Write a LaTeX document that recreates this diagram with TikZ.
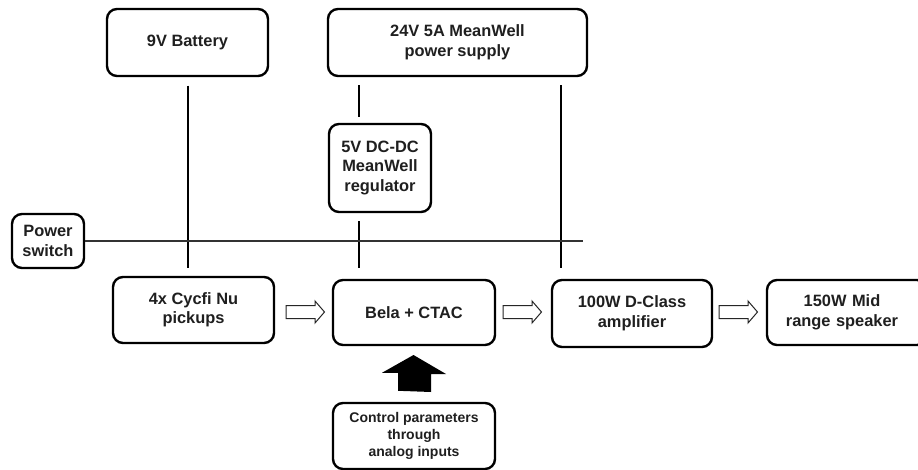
\documentclass[tikz,border=0pt]{standalone}
\usepackage{fontspec}
\setmainfont{Liberation Sans}
\begin{document}
\begin{tikzpicture}[x=1pt,y=-1pt,
  box/.style={draw=black, line width=2.4pt, rounded corners=10pt, align=center,
    inner sep=0pt, font=\fontsize{16.4}{19.5}\selectfont\bfseries, text=black!88},
  smallbox/.style={box, font=\fontsize{14}{17}\selectfont\bfseries},
  wire/.style={draw=black, line width=2pt},
  swline/.style={draw=black!80, line width=2pt},
  hollow/.style={draw=black!85, line width=1pt, fill=white},
  solidarrow/.style={fill=black, draw=none}]
\clip (0,0) rectangle (918,470);
\fill[white] (0,0) rectangle (918,470);

% boxes
\node[box, minimum width=161pt, minimum height=67pt] (bat) at (187.5,42.5) {9V Battery};
\node[box, minimum width=259pt, minimum height=67pt] (psu) at (457.5,42.5) {24V 5A MeanWell\\power supply};
\node[box, minimum width=102pt, minimum height=88pt] (reg) at (380,168) {5V DC-DC\\MeanWell\\regulator};
\node[box, minimum width=72pt, minimum height=54pt] (sw) at (48,241) {Power\\switch};
\node[box, minimum width=161pt, minimum height=66pt] (pick) at (193.5,310) {4x Cycfi Nu\\pickups};
\node[box, minimum width=162pt, minimum height=65pt] (bela) at (414,312.5) {Bela + CTAC};
\node[box, minimum width=160pt, minimum height=67pt] (amp) at (632,313.5) {100W D-Class\\amplifier};
\node[box, minimum width=160pt, minimum height=65pt, text width=160pt] (spk) at (847,312.5) {\hspace*{-10pt}150W Mid\\\hspace*{-10pt}range speaker};
\node[smallbox, minimum width=162pt, minimum height=66pt] (ctrl) at (414,436) {Control parameters\\through\\analog inputs};

% power wires (with small gaps to the boxes)
\path (bat.south) ++(0.5,8.5) coordinate (batT);
\path (pick.north) ++(-5.5,-8) coordinate (batB);
\draw[wire] (batT) -- (batB);

\path (psu.south) ++(-98.5,8) coordinate (psuL);
\path (reg.north) ++(-21,-6) coordinate (regT);
\draw[wire] (psuL) -- (regT);

\path (reg.south) ++(-21,8) coordinate (regB);
\path (bela.north) ++(-55,-11) coordinate (belaT);
\draw[wire] (regB) -- (belaT);

\path (psu.south) ++(103.5,8) coordinate (psuR);
\path (amp.north) ++(-71,-11) coordinate (ampT);
\draw[wire] (psuR) -- (ampT);

\coordinate (swEnd) at (583,241);
\draw[swline] (sw.east) -- (swEnd);

% hollow signal arrows
\foreach \x in {286, 503, 719}{
  \path[hollow] (\x,305.5) -- ++(29,0) -- ++(0,-4.5) -- ++(9.5,11) -- ++(-9.5,11) -- ++(0,-4.5) -- ++(-29,0) -- cycle;
}

% solid control arrow
\path (ctrl.north) ++(-16,-11) coordinate (cA);
\path[solidarrow] (cA) -- ++(0,-18) -- ++(-16,0) -- (413.5,355) -- (446,374) -- ++(-15,0) -- ++(0,18) -- cycle;
\end{tikzpicture}
\end{document}
